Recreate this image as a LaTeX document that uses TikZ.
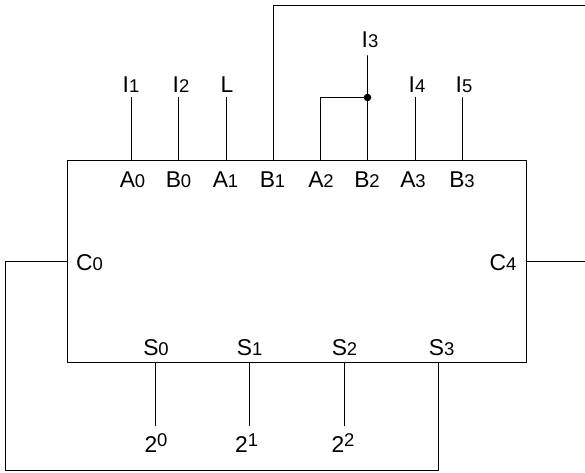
\documentclass[tikz,border=0pt]{standalone}
\usepackage{fontspec}
\setmainfont{Liberation Sans}
\begin{document}
\begin{tikzpicture}[line cap=round,line join=round,
  x=0.02cm,y=-0.02cm,      % one unit = one pixel of the 585x473 sheet
  line width=0.65pt,
  lab/.style={anchor=base,inner sep=0pt,inner ysep=2.8pt,font=\fontsize{13}{15}\selectfont},
  ]
  \def\sm#1{{\fontsize{10.5}{12}\selectfont #1}}       % small digit on the baseline
  \def\up#1{\raisebox{3.8pt}{\fontsize{10.5}{12}\selectfont #1}} % raised digit
  \useasboundingbox (0,0) rectangle (585,473);
  % adder body
  \node (adder) [draw,inner sep=0pt,outer sep=0pt,minimum width=9.18cm,minimum height=4.04cm] at (297,261.5) {};
  % pins along the top edge
  \coordinate (a0) at (131.5,160.5);
  \coordinate (b0) at (178.5,160.5);
  \coordinate (a1) at (226.5,160.5);
  \coordinate (b1) at (273.5,160.5);
  \coordinate (a2) at (320.5,160.5);
  \coordinate (b2) at (367.5,160.5);
  \coordinate (a3) at (415.5,160.5);
  \coordinate (b3) at (462.5,160.5);
  \coordinate (tap) at (367.5,97.5);
  \coordinate (feedA) at (273.5,5.5);
  \coordinate (feedB) at (585,5.5);
  % pins along the bottom edge
  \coordinate (s0) at (155.5,362.5);
  \coordinate (s1) at (249.5,362.5);
  \coordinate (s2) at (344.5,362.5);
  \coordinate (s3) at (438.5,362.5);
  % carry wires
  \coordinate (c0) at (67.5,261.5);
  \coordinate (c4) at (526.5,261.5);
  \coordinate (c4end) at (585,261.5);
  \coordinate (loopA) at (5.5,261.5);
  \coordinate (loopB) at (5.5,470.5);
  \coordinate (loopC) at (438.5,470.5);
  % labels inside the body
  \node (la0) [lab] at (132.5,188) {A\sm{0}};
  \node (lb0) [lab] at (178.5,188) {B\sm{0}};
  \node (la1) [lab] at (225.5,188) {A\sm{1}};
  \node (lb1) [lab] at (272.5,188) {B\sm{1}};
  \node (la2) [lab] at (321,188) {A\sm{2}};
  \node (lb2) [lab] at (367,188) {B\sm{2}};
  \node (la3) [lab] at (413,188) {A\sm{3}};
  \node (lb3) [lab] at (462,188) {B\sm{3}};
  \node (lc0) [lab] at (89.5,270) {C\sm{0}};
  \node (lc4) [lab] at (503,270) {C\sm{4}};
  \node (ls0) [lab] at (156,355) {S\sm{0}};
  \node (ls1) [lab] at (249.7,355) {S\sm{1}};
  \node (ls2) [lab] at (344.5,355) {S\sm{2}};
  \node (ls3) [lab] at (441.7,355) {S\sm{3}};
  % inputs
  \node (i1) [lab] at (131,92) {I\sm{1}};
  \node (i2) [lab] at (181,92) {I\sm{2}};
  \node (il) [lab] at (227,92) {L};
  \node (i3) [lab,inner ysep=4pt] at (370,48) {I\sm{3}};
  \node (i4) [lab] at (417,92) {I\sm{4}};
  \node (i5) [lab] at (464,92) {I\sm{5}};
  % outputs
  \node (p0) [lab] at (156,452.7) {2\up{0}};
  \node (p1) [lab] at (246.7,452.7) {2\up{1}};
  \node (p2) [lab] at (343,452.7) {2\up{2}};
  % input wires
  \draw (a0) -- (a0 |- i1.south);
  \draw (b0) -- (b0 |- i2.south);
  \draw (a1) -- (a1 |- il.south);
  \draw (b2) -- (b2 |- i3.south);
  \draw (a3) -- (a3 |- i4.south);
  \draw (b3) -- (b3 |- i5.south);
  \draw (a2) |- (tap);
  \fill (tap) circle (3.8);
  \draw (b1) -- (feedA) -- (feedB);
  % output wires
  \draw (s0) -- (s0 |- 0,425.7);
  \draw (s1) -- (s1 |- 0,425.7);
  \draw (s2) -- (s2 |- 0,425.7);
  % carry loop
  \draw (c4) -- (c4end);
  \draw (c0) -- (loopA) -- (loopB) -- (loopC) -- (s3);
\end{tikzpicture}
\end{document}
